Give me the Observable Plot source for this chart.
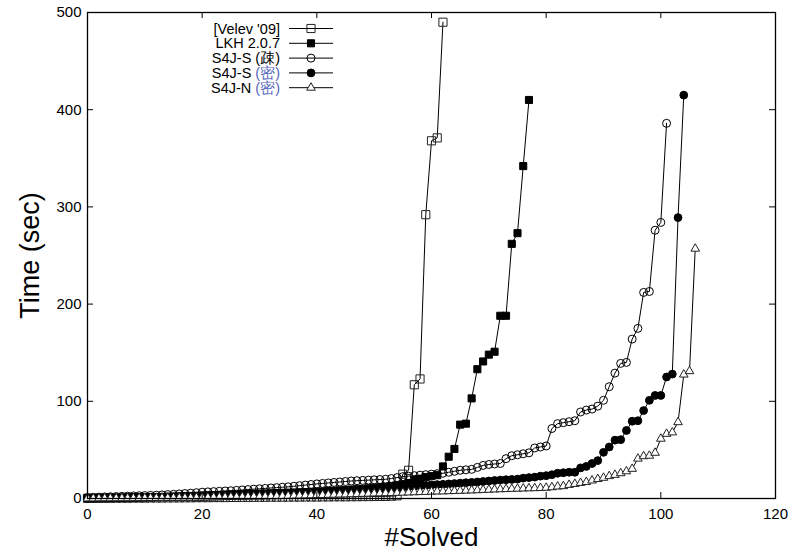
<!DOCTYPE html>
<html><head><meta charset="utf-8">
<script src="https://cdn.jsdelivr.net/npm/d3@7"></script>
<script src="https://cdn.jsdelivr.net/npm/@observablehq/plot@0.6"></script>
<style>
body{margin:0;background:#fff;}
#wrap{position:relative;width:789px;height:552px;font-family:"Liberation Sans",Arial,sans-serif;}
#legend{position:absolute;left:0;top:0;pointer-events:none;}
</style></head><body><div id="wrap"></div>
<script>
const seriesNames = ["[Velev '09]", "LKH 2.0.7", "S4J-S (疎)", "S4J-S (密)", "S4J-N (密)"];

const velev = [0.2,0.2,0.3,0.3,0.3,0.4,0.4,0.4,0.5,0.5,
  0.5,0.6,0.6,0.6,0.7,0.7,0.7,0.8,0.8,0.9,
  0.9,0.9,1.0,1.0,1.0,1.1,1.1,1.2,1.2,1.2,
  1.3,1.3,1.4,1.4,1.4,1.5,1.5,1.5,1.6,1.6,
  1.6,1.7,1.7,1.8,1.8,1.8,1.9,1.9,2.0,2.0,
  2.1,2.1,2.2,2.4,2.8,
  25,29,117,123,292,368,371,490];

const lkh = [0.3,0.4,0.5,0.6,0.7,0.8,0.9,1.0,1.1,1.2,
  1.3,1.4,1.5,1.6,1.8,2.0,2.2,2.4,2.6,2.8,
  3.0,3.2,3.4,3.6,3.8,4.0,4.2,4.4,4.6,4.8,
  5.0,5.2,5.4,5.6,5.8,6.0,6.2,6.4,6.6,6.8,
  7.0,7.3,7.6,8.0,8.4,8.8,9.2,9.6,10.0,10.5,
  11.0,11.5,12.0,12.8,13.5,14.5,16,
  19,20,22,23,24,33,43,51,76,77,103,133,141,148,151,188,188,262,273,342,410];

const s4jSparse = [1.0,1.2,1.4,1.6,1.8,2.0,2.2,2.4,2.6,2.8,
  3.0,3.2,3.4,3.7,4.0,4.3,4.7,5.1,5.5,6.0,
  6.5,6.8,7.1,7.4,7.7,8.0,8.4,8.8,9.2,9.6,
  10.0,10.4,10.8,11.2,11.6,12.0,12.6,13.2,13.8,14.4,
  15.0,15.5,16.0,16.5,17.0,17.5,18.0,18.3,18.6,18.9,
  19.2,19.5,19.8,20.5,21.5,22.5,23.0,23.5,24.0,24.5,
  25.0,25.5,26.0,27.0,28.0,29.0,29.5,30.0,32.0,34.0,
  35.0,35.5,36.0,41.0,44.0,45.0,46.0,47.0,52.0,53.0,
  54.0,72.0,77.0,78.0,79.0,80.0,89.0,91.0,92.0,95.0,
  101,115,129,139,140,164,175,212,213,276,284,386];

const s4jDense = [0.2,0.3,0.4,0.5,0.6,0.7,0.8,0.9,1.0,1.1,
  1.2,1.3,1.4,1.5,1.6,1.7,1.8,1.9,1.9,2.0,
  2.0,2.2,2.4,2.6,2.8,3.0,3.2,3.4,3.6,3.8,
  4.0,4.2,4.4,4.6,4.8,5.0,5.2,5.4,5.6,5.8,
  6.0,6.3,6.6,6.9,7.2,7.5,7.8,8.1,8.5,8.9,
  9.3,9.7,10.1,10.6,11.0,11.5,12.0,12.5,13.0,13.5,
  14.0,14.3,14.6,15.0,15.4,15.8,16.2,16.6,17.0,17.5,
  18.0,18.5,19.0,19.3,19.6,20.0,21.0,21.5,22.0,23.0,
  23.5,24.5,26,26.5,27,27,31.5,33,36,39,
  47.5,53,60,60.5,70,79.5,80,90.5,101,106,
  106,125,128,289,415];

const s4jN = [0.1,0.1,0.15,0.2,0.2,0.25,0.3,0.3,0.35,0.4,
  0.45,0.5,0.55,0.6,0.65,0.7,0.75,0.8,0.85,0.9,
  1.0,1.1,1.2,1.3,1.4,1.5,1.6,1.7,1.8,1.9,
  2.0,2.1,2.3,2.4,2.6,2.7,2.9,3.0,3.2,3.3,
  3.5,3.6,3.8,3.9,4.1,4.2,4.4,4.6,4.8,5.0,
  5.2,5.3,5.5,5.6,5.8,6.0,6.2,6.4,6.6,6.8,
  7.0,7.2,7.3,7.5,7.7,7.9,8.1,8.3,8.5,8.8,
  9.0,9.3,9.5,9.7,9.9,10.1,10.3,10.5,10.6,10.8,
  11,11.6,12.3,12.7,14,15,16,17,18.5,20,
  21.3,23,24.3,26,28,30.5,41,43.5,44,47,
  61.5,66.5,68,78.5,127.5,131,257];

const xTicks = [0,20,40,60,80,100,120];
const yTicks = [0,100,200,300,400,500];

const W = 789, H = 552, mL = 87, mR = 14, mT = 12, mB = 54;
const innerW = W - mL - mR, innerH = H - mT - mB;

const allSeries = [velev, lkh, s4jSparse, s4jDense, s4jN];
const symbols = ["square", "square", "circle", "circle", "triangle"];
const fills = ["none", "black", "none", "black", "white"];
const strokes = ["#222", "black", "black", "black", "#222"];
const radii = [4.6, 4.0, 4.0, 3.9, 3.2];

const marks = [];
allSeries.forEach((vals, i) => {
  const data = vals.map((v, k) => ({x: k, y: v}));
  marks.push(Plot.line(data, {x: "x", y: "y", stroke: "black", strokeWidth: 1}));
  marks.push(Plot.dot(data, {x: "x", y: "y", symbol: symbols[i], r: radii[i],
    fill: fills[i], stroke: strokes[i], strokeWidth: 1}));
});

const chart = Plot.plot({
  width: W, height: H,
  marginLeft: mL, marginRight: mR, marginTop: mT, marginBottom: mB,
  style: {fontFamily: "'Liberation Sans', Arial, sans-serif", background: "white", color: "black"},
  x: {domain: [0, 120]},
  y: {domain: [0, 500]},
  marks: [
    ...marks,
    Plot.frame({stroke: "black", strokeWidth: 1.3}),
    Plot.ruleX(xTicks, {x: d => d, insetTop: innerH - 6, stroke: "black"}),
    Plot.ruleX(xTicks, {x: d => d, insetBottom: innerH - 6, stroke: "black"}),
    Plot.ruleY(yTicks, {y: d => d, insetRight: innerW - 6, stroke: "black"}),
    Plot.ruleY(yTicks, {y: d => d, insetLeft: innerW - 6, stroke: "black"}),
    Plot.axisX({ticks: xTicks, tickSize: 0, tickPadding: 10, fontSize: 15, label: null}),
    Plot.axisY({ticks: yTicks, tickSize: 0, tickPadding: 6, fontSize: 15, label: null}),
    Plot.text(["Time (sec)"], {text: d => d, frameAnchor: "left", dx: -57, rotate: -90,
      textAnchor: "middle", lineAnchor: "middle", fontSize: 27, fill: "black"}),
    Plot.text(["#Solved"], {text: d => d, frameAnchor: "bottom", dy: 39,
      textAnchor: "middle", lineAnchor: "middle", fontSize: 26, fill: "black"})
  ]
});

const wrap = document.getElementById("wrap");
wrap.appendChild(chart);

// Legend overlay (inside the plot frame, top-left)
const legend = d3.select(wrap).append("svg").attr("id", "legend")
  .attr("width", W).attr("height", H)
  .style("font-family", "'Liberation Sans', Arial, sans-serif");
const d3sym = {square: d3.symbolSquare, circle: d3.symbolCircle, triangle: d3.symbolTriangle};
seriesNames.forEach((name, i) => {
  const y = 28.5 + 14.8 * i;
  const t = legend.append("text").attr("x", 280).attr("y", y + 5)
    .attr("text-anchor", "end").attr("font-size", 14.5).attr("fill", "black");
  const m = name.match(/^(.*?)(\(密\))$/);
  if (m) {
    t.append("tspan").text(m[1]);
    t.append("tspan").attr("fill", "#5566bb").text(m[2]);
  } else {
    t.text(name);
  }
  legend.append("line").attr("x1", 289).attr("x2", 333).attr("y1", y).attr("y2", y)
    .attr("stroke", "black").attr("stroke-width", 1);
  const r = radii[i];
  legend.append("path")
    .attr("d", d3.symbol(d3sym[symbols[i]], r * r * Math.PI)())
    .attr("transform", `translate(311,${y})`)
    .attr("fill", fills[i]).attr("stroke", strokes[i]).attr("stroke-width", 1);
});
</script>
</body></html>
